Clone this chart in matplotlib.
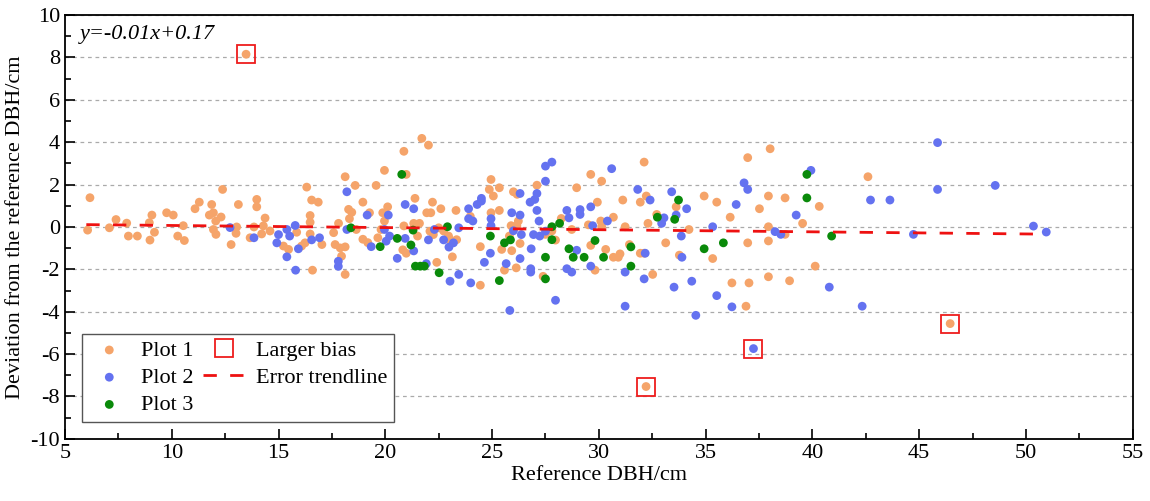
import matplotlib.pyplot as plt
import numpy as np

plt.rcParams['font.family'] = ['Liberation Serif', 'DejaVu Serif']
plt.rcParams['axes.unicode_minus'] = False

# Plot 1 (orange)
p1_x = [6.17, 6.06, 7.08, 7.39, 7.89, 7.97, 8.39, 8.98, 9.19, 8.95, 9.07, 9.76, 10.07, 10.54, 10.28, 10.59,
        11.09, 11.29, 11.87, 11.95, 11.76, 12.06, 12.31, 12.38, 11.95, 12.07, 12.78, 13.01, 13.12, 13.04,
        13.98, 13.98, 13.67, 13.85, 14.29, 14.37, 14.21, 14.6, 15.23, 15.47, 15.85, 16.08, 16.24, 16.32,
        16.48, 16.48, 16.55, 16.86, 16.48, 16.59, 17.03, 17.81, 17.58, 17.65, 18.12, 17.89, 18.12, 18.59,
        18.28, 18.32, 18.43, 18.64, 17.95, 18.12, 18.95, 19.26, 18.95, 19.18, 19.57, 19.96, 20.87, 20.98,
        20.11, 19.88, 19.96, 19.8, 19.65, 20.87, 20.82, 20.98,
        21.71, 22.02, 21.39, 22.21, 21.94, 22.13, 22.6, 23.31, 21.33, 21.6, 21.51, 22.41, 22.09, 22.25,
        22.5, 22.73, 22.96, 23.03, 23.34, 23.14, 23.98, 24.87, 24.95, 25.06, 25.34, 24.95, 25.34, 24.45,
        24.45, 25.45, 25.58, 25.81, 25.89, 26.0, 26.17, 26.23, 26.16, 26.31, 25.92, 26.13, 27.1, 27.5,
        27.8, 27.97, 27.39, 28.24, 28.73, 28.96,
        29.62, 30.13, 29.93, 29.51, 30.09, 30.13, 30.68, 29.62, 30.32, 29.82, 30.68, 30.99, 30.91, 31.12,
        31.23, 31.43, 32.12, 31.94, 32.22, 32.3, 31.94, 32.12, 32.52, 32.71, 33.62, 34.22, 33.13, 33.77,
        34.93, 35.52, 35.33, 36.15, 36.23, 36.97, 36.97, 37.03, 36.89,
        38.02, 37.94, 38.72, 37.52, 37.94, 37.94, 38.72, 37.94, 38.93, 39.54, 40.32, 40.13, 42.6,
        13.48, 32.21, 46.45]
p1_y = [1.38, -0.15, -0.04, 0.35, 0.18, -0.43, -0.43, -0.62, -0.25, 0.2, 0.56, 0.67, 0.56, 0.06, -0.43, -0.64,
        0.86, 1.17, 1.06, 0.67, 0.56, 0.28, 0.47, 1.77, -0.12, -0.35, -0.83, -0.3, 1.06, 0.0,
        1.30, 0.95, -0.51, 0.0, 0.05, 0.42, -0.33, -0.19, -0.9, -1.06, -0.25, -0.9, -0.75, 1.88,
        0.54, 0.22, 1.27, 1.17, -0.33, -2.04, -0.83, 0.17, -0.27, -0.83, -0.94, -0.99, 2.37, 1.96,
        0.83, 0.39, 0.69, -0.12, -1.38, -2.24, 1.17, 0.67, -0.58, -0.74, 1.96, 2.67, 3.57, 2.48,
        0.95, 0.67, 0.28, -0.12, -0.51, 0.05, -1.08, -1.24,
        4.18, 3.86, 1.35, 1.17, 0.67, 0.67, 0.86, 0.78, 0.17, 0.17, -0.43, -1.67, -0.2, -0.36,
        -0.04, -0.19, -0.43, -0.6, -0.6, -1.41, 0.5, 1.77, 2.24, 1.46, 1.85, 0.67, 0.78, -0.93,
        -2.75, -1.06, -2.04, -0.43, 0.06, 1.66, 1.54, 0.28, 0.06, -0.78, -1.12, -1.93, 1.97, -0.35,
        -0.19, -0.62, -2.33, 0.4, -0.12, 1.85,
        2.48, 2.16, 1.17, 0.1, 0.28, 0.02, 0.46, -0.87, -1.06, -2.04, -1.43, -1.27, -1.43, 1.27,
        0.01, -0.83, 3.06, 1.17, 1.46, 0.17, -1.24, -1.24, -2.24, 0.59, 0.95, -0.12, -0.75, -1.33,
        1.46, 1.17, -1.49, 0.46, -2.64, 3.27, -0.75, -2.64, -3.74,
        3.69, 1.46, 1.37, 0.86, 0.01, -0.66, -0.35, -2.35, -2.54, 0.17, 0.97, -1.85, 2.37,
        8.15, -7.53, -4.56]

# Plot 2 (blue)
p2_x = [12.73, 13.85, 14.92, 15.0, 15.39, 15.52, 15.78, 15.39, 15.93, 15.80, 16.55, 16.92, 18.2, 18.2,
        17.8, 17.8, 19.15, 19.34, 20.93, 20.14, 19.96, 20.04, 20.2, 20.93, 20.56,
        21.33, 21.33, 21.92, 22.3, 22.02, 22.73, 23.19, 22.98, 23.03, 23.44, 23.44, 23.9, 23.9, 24.1,
        24.3, 24.5, 24.5, 24.95, 24.95, 24.92, 24.64, 24.0, 25.66, 26.0, 25.92, 26.31, 26.31, 26.37,
        26.31, 25.83, 26.81, 26.81, 26.83, 26.94, 26.78, 27.0, 27.1, 27.1, 27.2, 27.23, 27.5, 27.5,
        27.8, 27.5, 27.97, 28.5, 28.6, 28.5, 28.73, 28.96,
        29.12, 29.12, 30.6, 29.62, 29.71, 30.4, 29.62, 31.23, 31.23, 31.82, 32.4, 32.17, 32.12, 32.94,
        33.05, 33.41, 33.62, 34.11, 33.86, 33.89, 33.52, 34.35, 34.54, 35.33, 35.52, 36.43, 36.23,
        36.8, 36.97,
        38.25, 38.52, 39.24, 39.93, 40.79, 42.72, 43.63, 42.33, 44.73, 37.24,
        45.86, 45.86, 48.56, 50.35, 50.95]
p2_y = [-0.03, -0.51, -0.75, -0.36, -0.12, -0.43, 0.07, -1.41, -1.03, -2.04, -0.61, -0.51, 1.66, -0.12,
        -1.62, -1.86, 0.56, -0.93, 1.06, 0.56, -0.12, -0.67, -0.43, -0.54, -1.48,
        0.86, -1.13, -1.73, -0.12, -0.61, -0.61, -0.75, -0.95, -2.56, -2.24, -0.04, 0.86, 0.39, 0.28,
        1.06, 1.35, 1.22, 0.39, 0.06, -1.24, -1.67, -2.64, -1.73, -0.18, 0.67, 1.58, 0.56, -0.36,
        -1.49, -3.94, -1.97, -2.13, -1.03, -0.36, 1.17, 1.3, 1.58, 0.78, 0.28, -0.43, 2.16, 2.87,
        3.06, -0.2, -3.46, 0.78, 0.43, -1.97, -2.13, -1.1,
        0.82, 0.59, 2.75, 0.95, 0.06, 0.28, -1.85, -2.13, -3.74, 1.77, 1.27, -1.24, -2.45, 0.17,
        0.43, 1.66, 0.56, 0.86, -0.43, -1.43, -2.84, -2.56, -4.17, 0.01, -3.24, 1.06, -3.77,
        2.08, 1.77,
        -0.22, -0.35, 0.56, 2.67, -2.84, 1.27, 1.27, -3.74, -0.35, -5.74,
        3.98, 1.77, 1.96, 0.04, -0.24]

# Plot 3 (green)
p3_x = [18.39, 19.76, 20.77, 20.56, 21.3, 21.2, 21.41, 21.64, 21.83, 22.52, 22.91, 24.92, 25.34, 25.58,
        25.86, 27.8, 27.8, 27.5, 27.5, 28.16, 28.6, 28.8, 29.82, 29.31, 30.22, 31.5, 31.5, 32.74,
        33.73, 33.55, 34.93, 35.83, 39.74, 39.74, 40.9]
p3_y = [-0.04, -0.93, 2.48, -0.54, -0.15, -0.85, -1.85, -1.85, -1.85, -2.16, 0.01, -0.43, -2.53, -0.75,
        -0.61, 0.01, -0.6, -1.43, -2.45, 0.17, -1.03, -1.43, -0.64, -1.43, -1.43, -0.94, -1.85, 0.46,
        1.27, 0.36, -1.03, -0.75, 2.48, 1.37, -0.43]

# larger bias points
bias_x = [13.48, 32.21, 37.24, 46.45]
bias_y = [8.15, -7.53, -5.74, -4.56]

# error trendline y = -0.01x + 0.17
trend_slope = -0.01
trend_icpt = 0.17
trend_range = [6.0, 50.5]

fig = plt.figure(figsize=(11.5, 5.01), dpi=100)
ax = fig.add_axes([0.0565, 0.124, 0.9285, 0.846])

ax.scatter(p1_x, p1_y, s=40, c='#F5A46A', edgecolors='none', label='Plot 1', zorder=3)
ax.scatter(p2_x, p2_y, s=40, c='#6472F0', edgecolors='none', label='Plot 2', zorder=3)
ax.scatter(p3_x, p3_y, s=40, c='#0A8A0A', edgecolors='none', label='Plot 3', zorder=3)
ax.plot(bias_x, bias_y, ls='none', marker='s', ms=13, mfc='none', mec='#EE1C1C', mew=1.3,
        label='Larger bias', zorder=4)

tx = np.array(trend_range)
ax.plot(tx, trend_slope * tx + trend_icpt, color='#EE1111', lw=2, dashes=(4.8, 4.8),
        label='Error trendline', zorder=4)

ax.set_xlim(5, 55)
ax.set_ylim(-10, 10)
ax.set_xticks(np.arange(5, 56, 5))
ax.set_xticks(np.arange(7.5, 55, 5), minor=True)
ax.set_yticks(np.arange(-10, 11, 2))
ax.set_yticks(np.arange(-9, 10, 2), minor=True)
ax.tick_params(which='both', direction='in', labelsize=16, width=1.2)
ax.tick_params(which='major', length=7)
ax.tick_params(which='minor', length=4)
for sp in ax.spines.values():
    sp.set_linewidth(1.3)

ax.grid(axis='y', color='#AAAAAA', linestyle=(0, (3, 3)), linewidth=0.9)
ax.set_axisbelow(True)

ax.set_xlabel('Reference DBH/cm', fontsize=16, labelpad=2)
ax.set_ylabel('Deviation from the reference DBH/cm', fontsize=16, labelpad=4)
ax.text(0.014, 0.953, 'y=-0.01x+0.17', transform=ax.transAxes, fontsize=16, style='italic',
        va='center', ha='left')

leg = ax.legend(ncol=2, loc='lower left', bbox_to_anchor=(0.016, 0.04), borderaxespad=0,
                fontsize=16, fancybox=False, edgecolor='#555555', framealpha=1,
                handlelength=1.85, columnspacing=0.45, labelspacing=0.3, handletextpad=0.5,
                borderpad=0.3)
leg.get_frame().set_linewidth(1.0)

plt.savefig('out.png', dpi=100)
